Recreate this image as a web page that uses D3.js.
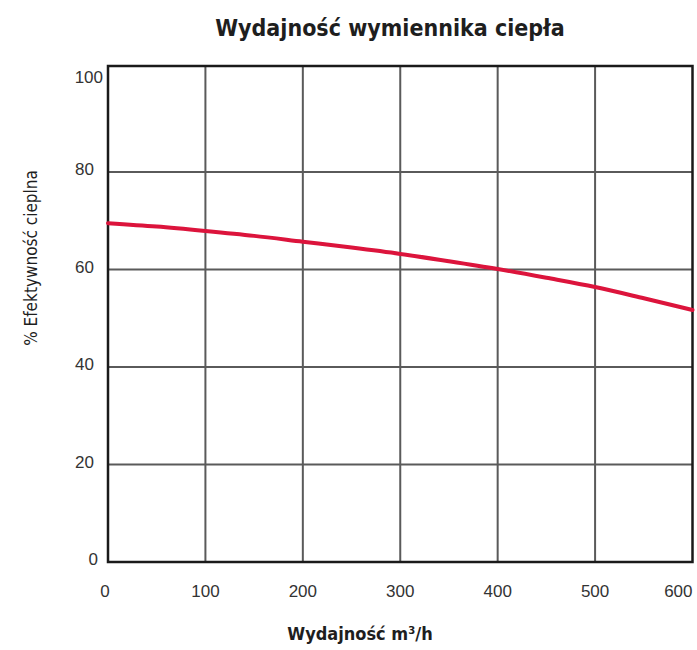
<!DOCTYPE html>
<html>
<head>
<meta charset="utf-8">
<script src="https://cdn.jsdelivr.net/npm/d3@7"></script>
<style>
  body { margin: 0; background: #fff; }
  text { font-family: "DejaVu Sans Condensed", "Liberation Sans Narrow", sans-serif; fill: #1e1e1e; }
  .tick { font-family: "Liberation Sans", Arial, sans-serif; fill: #333; }
</style>
</head>
<body>
<div id="chart"></div>
<script>
// data
var flow = [0, 50, 100, 150, 200, 250, 300, 350, 400, 450, 500, 550, 600];
var efficiency = [69.5, 68.8, 67.9, 66.9, 65.7, 64.5, 63.2, 61.7, 60.1, 58.3, 56.4, 54.1, 51.7];
var xTicks = [0, 100, 200, 300, 400, 500, 600];
var yTicks = [0, 20, 40, 60, 80, 100];

var W = 697, H = 650;
var margin = {top: 66, right: 4, bottom: 88, left: 108};

var svg = d3.select("#chart")
  .append("svg")
  .attr("width", W)
  .attr("height", H);

var x = d3.scaleLinear()
  .domain([0, 600])
  .range([margin.left, W - margin.right - 0.5]);

var y = d3.scaleLinear()
  .domain([0, 100])
  .range([562, 74.5]);

// grid lines
svg.append("g")
  .selectAll("line.vgrid")
  .data(xTicks.slice(1, -1))
  .enter()
  .append("line")
  .attr("x1", d => x(d))
  .attr("x2", d => x(d))
  .attr("y1", margin.top)
  .attr("y2", y(0))
  .attr("stroke", "#5a5a5a")
  .attr("stroke-width", 2);

svg.append("g")
  .selectAll("line.hgrid")
  .data(yTicks.slice(1, -1))
  .enter()
  .append("line")
  .attr("x1", x(0))
  .attr("x2", x(600))
  .attr("y1", d => y(d))
  .attr("y2", d => y(d))
  .attr("stroke", "#5a5a5a")
  .attr("stroke-width", 2);

// frame
svg.append("rect")
  .attr("x", x(0))
  .attr("y", margin.top)
  .attr("width", x(600) - x(0))
  .attr("height", y(0) - margin.top)
  .attr("fill", "none")
  .attr("stroke", "#1a1a1a")
  .attr("stroke-width", 2.5);

// curve
var line = d3.line()
  .x((d, i) => x(flow[i]))
  .y(d => y(d))
  .curve(d3.curveMonotoneX);

svg.append("path")
  .datum(efficiency)
  .attr("d", line)
  .attr("fill", "none")
  .attr("stroke", "#dc143c")
  .attr("stroke-width", 4)
  .attr("stroke-linecap", "round");

// x tick labels
svg.append("g")
  .selectAll("text")
  .data(xTicks)
  .enter()
  .append("text")
  .attr("class", "tick")
  .attr("x", d => d === 600 ? x(d) : x(d) - (d === 0 ? 3 : 0))
  .attr("y", 597)
  .attr("text-anchor", d => d === 600 ? "end" : "middle")
  .style("font-size", "17px")
  .text(d => d);

// y tick labels
svg.append("g")
  .selectAll("text")
  .data(yTicks)
  .enter()
  .append("text")
  .attr("class", "tick")
  .attr("x", d => d === 100 ? 103 : (d === 0 ? 98 : 94))
  .attr("y", d => (d === 100 ? 77 : y(d) - 3) + 6)
  .attr("text-anchor", "end")
  .style("font-size", "17px")
  .text(d => d);

// title
svg.append("text")
  .attr("x", 390)
  .attr("y", 36)
  .attr("text-anchor", "middle")
  .style("font-size", "23px")
  .style("font-weight", "bold")
  .text("Wydajność wymiennika ciepła");

// axis titles
svg.append("text")
  .attr("x", 360)
  .attr("y", 640)
  .attr("text-anchor", "middle")
  .style("font-size", "18px")
  .style("font-weight", "bold")
  .text("Wydajność m³/h");

svg.append("text")
  .attr("transform", "translate(37,258) rotate(-90)")
  .attr("text-anchor", "middle")
  .style("font-size", "17px")
  .text("% Efektywność cieplna");
</script>
</body>
</html>
